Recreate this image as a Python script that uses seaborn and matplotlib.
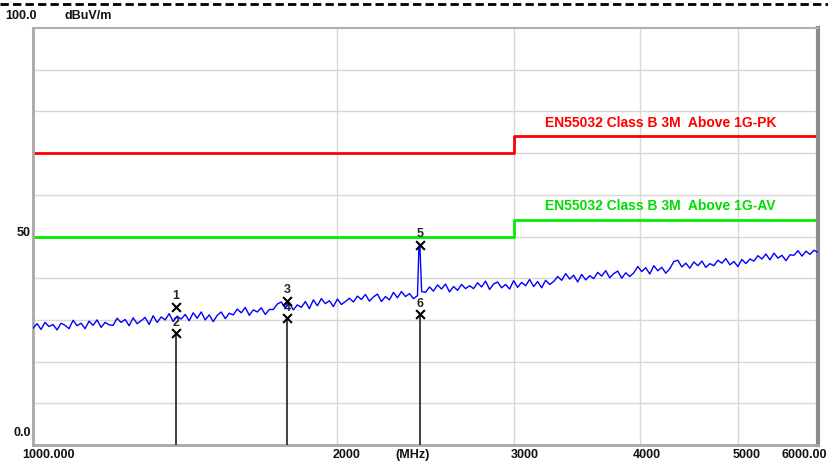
import numpy as np
import pandas as pd
import seaborn as sns
import matplotlib.pyplot as plt
from matplotlib.lines import Line2D

# sweep 1000-6000 MHz, dBuV/m
trace_db = [
    28.0, 29.1, 27.7, 29.4, 28.4, 28.9, 27.6, 29.2, 28.7, 27.9,
    29.9, 28.6, 29.2, 27.9, 29.7, 28.7, 30.0, 28.2, 29.4, 28.8,
    28.7, 30.4, 29.4, 30.1, 28.6, 30.5, 29.1, 29.8, 30.6, 28.9,
    31.0, 29.4, 30.7, 30.0, 31.5, 29.6, 30.9, 30.2, 31.3, 29.8,
    31.7, 30.4, 31.9, 30.0, 31.2, 29.6, 31.1, 31.9, 30.3, 31.6,
    31.2, 32.6, 31.7, 33.0, 31.1, 32.4, 31.9, 32.9, 31.3, 32.5,
    32.5, 33.8, 34.3, 32.8, 34.1, 32.4, 33.6, 33.0, 34.4, 32.7,
    34.8, 33.4, 35.1, 33.9, 34.6, 33.2, 35.0, 33.7, 34.4, 35.2,
    34.3, 35.7, 34.9, 36.1, 34.5, 35.5, 36.2, 34.4, 35.6, 34.8,
    36.6, 35.3, 36.8, 35.6, 36.3, 35.1, 35.9, 37.5, 36.6, 37.9,
    36.9, 38.4, 37.4, 38.6, 36.7, 38.0, 37.1, 38.5, 37.5, 38.2,
    37.5, 38.9, 37.9, 39.3, 37.3, 38.6, 39.1, 37.7, 38.5, 37.4,
    39.4, 37.8, 39.0, 38.2, 39.7, 38.0, 39.2, 37.7, 39.5, 38.5,
    39.2, 40.4, 39.5, 41.1, 39.8, 40.7, 39.1, 40.9, 39.6, 40.6,
    39.9, 41.4, 40.5, 41.8, 40.1, 41.1, 41.7, 40.0, 41.3, 40.4,
    41.3, 42.8, 41.6, 42.5, 41.0, 43.0, 41.8, 42.6, 41.2, 42.3,
    44.0, 44.3, 42.7, 43.6, 42.4, 43.9, 43.0, 44.1, 42.6, 43.5,
    43.0, 44.3, 43.6, 44.7, 43.2, 44.0, 42.8, 44.5, 43.5, 44.6,
    44.1, 45.4, 44.6, 45.8, 44.4, 46.0, 44.8, 45.5, 44.2, 45.6,
    45.5, 46.6, 45.3, 46.5, 45.7, 46.7, 46.2,
]
spike_mhz = [2405, 2413, 2418, 2428]
spike_db = [35.8, 47.6, 48.0, 36.8]

pk_mhz = [1000, 3000, 3000, 6000]
pk_db = [70, 70, 74, 74]
av_mhz = [1000, 3000, 3000, 6000]
av_db = [50, 50, 54, 54]
pk_label = "EN55032 Class B 3M  Above 1G-PK"
av_label = "EN55032 Class B 3M  Above 1G-AV"

marker_ids = ["1", "2", "3", "4", "5", "6"]
marker_mhz = [1385, 1385, 1785, 1785, 2420, 2420]
marker_db = [33.2, 26.8, 34.6, 30.4, 48.0, 31.4]

xtick_mhz = [1000, 2000, 3000, 4000, 5000, 6000]
xtick_labels = ["1000.000", "2000", "3000", "4000", "5000", "6000.00"]
ytick_db = [100, 50, 0]
ytick_labels = ["100.0", "50", "0.0"]

sweep = pd.DataFrame({"mhz": np.geomspace(1000, 6000, len(trace_db)), "db": trace_db})
sweep = pd.concat([sweep, pd.DataFrame({"mhz": spike_mhz, "db": spike_db})])
sweep = sweep.sort_values("mhz")
marks = pd.DataFrame({"id": marker_ids, "mhz": marker_mhz, "db": marker_db})

sns.set_style("white")
plt.rcParams["font.family"] = ["Liberation Sans", "DejaVu Sans"]

W, H = 829, 463
fig = plt.figure(figsize=(W / 100, H / 100), dpi=100)
ax = fig.add_axes([33 / W, (H - 445) / H, 785 / W, 417 / H])

ax.set_xscale("log")
ax.set_xlim(1000, 6000)
ax.set_ylim(0, 100)
ax.set_xticks([2000, 3000, 4000, 5000])
ax.xaxis.set_minor_locator(plt.NullLocator())
ax.set_yticks(range(10, 100, 10))
ax.tick_params(length=0, labelbottom=False, labelleft=False)
ax.grid(True, color="#d9d8d0", lw=1)
ax.set_axisbelow(True)
for side, lw, col in [("left", 2, "#a8a8a8"), ("top", 1.5, "#b0b0b0"),
                      ("right", 3, "#8c8c8c"), ("bottom", 2, "#a8a8a8")]:
    ax.spines[side].set_visible(True)
    ax.spines[side].set_linewidth(lw)
    ax.spines[side].set_color(col)

sns.lineplot(x=pk_mhz, y=pk_db, ax=ax, color="#ff0000", lw=2, sort=False, estimator=None)
sns.lineplot(x=av_mhz, y=av_db, ax=ax, color="#00ee00", lw=2, sort=False, estimator=None)
sns.lineplot(data=sweep, x="mhz", y="db", ax=ax, color="#0000ff", lw=1.0, sort=False,
             estimator=None, zorder=3)

ax.text(4190, 77.1, pk_label, color="#ff0000", fontsize=10, fontweight="bold", ha="center", va="center")
ax.text(4190, 57.3, av_label, color="#00dd00", fontsize=10, fontweight="bold", ha="center", va="center")

# vertical marker stems up to the lower marker of each pair
lows = marks.groupby("mhz")["db"].min()
ax.vlines(lows.index, 0, lows.values, color="#303030", lw=1.3, zorder=4)
sns.scatterplot(data=marks, x="mhz", y="db", ax=ax, marker="x", color="black",
                s=40, linewidth=1.5, zorder=5, legend=False)
for _, r in marks.iterrows():
    ax.annotate(r["id"], (r["mhz"], r["db"]), xytext=(0, 7.5), textcoords="offset points",
                ha="center", va="center", fontsize=9, fontweight="bold", zorder=2)

# axis labels drawn like the receiver software prints them
lab = dict(fontsize=9, fontweight="bold", color="#111111", va="center")
offsets = [-11, -4, -4, -8, -5, -36]
for f, t, dx in zip(xtick_mhz, xtick_labels, offsets):
    px = 33 + 785 * np.log10(f / 1000) / np.log10(6) + dx
    fig.text(px / W, 1 - 455 / H, t, ha="left", **lab)
fig.text(395 / W, 1 - 455 / H, "(MHz)", ha="left", **lab)
fig.text(5 / W, 1 - 16 / H, ytick_labels[0], ha="left", **lab)
fig.text(65 / W, 1 - 16 / H, "dBuV/m", ha="left", **lab)
for py, t in zip([233, 433], ytick_labels[1:]):
    fig.text(31 / W, 1 - py / H, t, ha="right", **lab)

# dashed page rule along the top edge
fig.add_artist(Line2D([0, 1], [1 - 4 / H, 1 - 4 / H], transform=fig.transFigure,
                      color="black", lw=2, dashes=(3, 1.5)))

fig.savefig("out.png", dpi=100)
